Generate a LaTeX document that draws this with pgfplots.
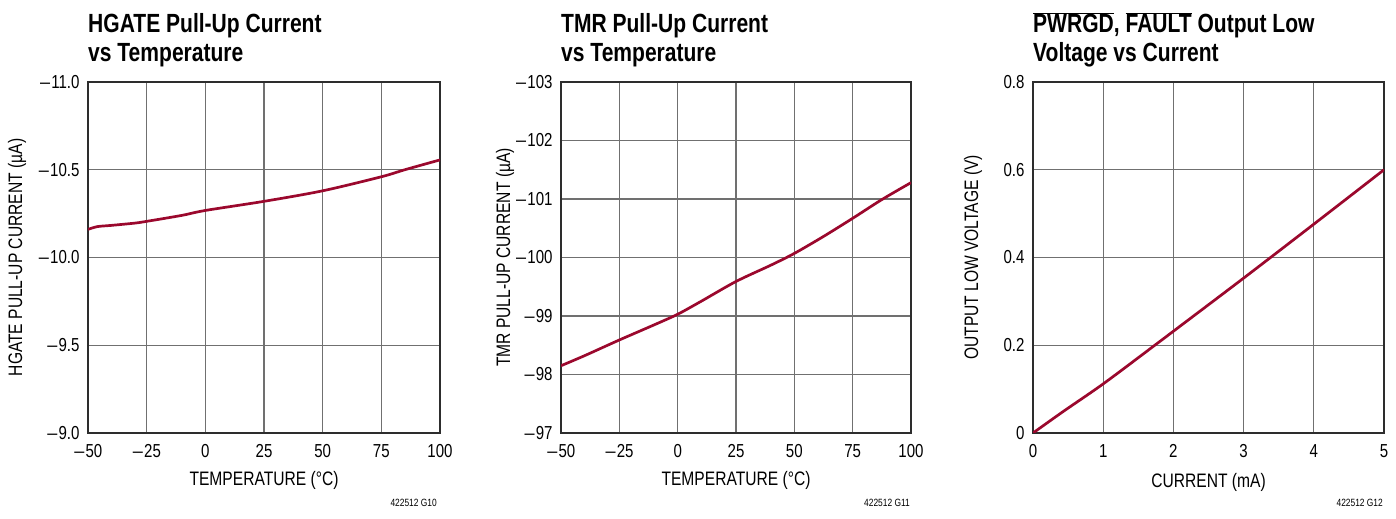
\documentclass[border=0pt]{standalone}
\usepackage{fontspec}
\setmainfont{Liberation Sans}[FakeStretch=0.8]
\usepackage{pgfplots}
\pgfplotsset{compat=1.18}
\definecolor{curve}{RGB}{155,8,45}
\definecolor{gridc}{RGB}{112,112,112}
\definecolor{framec}{RGB}{45,45,45}
\newcommand\tickfont{\fontsize{18.8bp}{20bp}\selectfont}
\newcommand\labfont{\fontsize{19.5bp}{21bp}\selectfont}
\newcommand\titfont{\fontsize{26.3bp}{29bp}\selectfont\bfseries}
\newcommand\smfont{\fontsize{10.5bp}{12bp}\selectfont}
\newcommand\mn{\kern0.5bp\scalebox{1.2}[1]{–}\kern1.2bp}
\pgfplotsset{
  common/.style={
    scale only axis, anchor=south west, height=351bp,
    axis line style={framec, line width=1.6bp},
    grid=major, major grid style={gridc, line width=1.3bp},
    major tick length=0pt,
    tick label style={font=\tickfont},
    xticklabel style={yshift=-8bp},
    yticklabel style={xshift=-5bp},
    label style={font=\labfont},
    clip=true,
  },
  curvestyle/.style={curve, line width=2.7bp, smooth, tension=0.5, no markers},
}
\begin{document}
\begin{tikzpicture}[x=1bp,y=1bp]
\path[use as bounding box] (0,0) rectangle (1396,519);

% Panel 1
\begin{axis}[common, at={(88bp,86bp)}, width=352bp,
  xmin=-50, xmax=100, ymin=-11, ymax=-9, y dir=reverse,
  xtick={-50,-25,0,25,50,75,100},
  xticklabels={\mn50,\mn25,0,25,50,75,100},
  ytick={-11,-10.5,-10,-9.5,-9},
  yticklabels={\mn11.0,\mn10.5,\mn10.0,\mn9.5,\mn9.0},
  xlabel={TEMPERATURE (°C)},
  ylabel={HGATE PULL-UP CURRENT (µA)},
  xlabel style={at={(axis description cs:0.5,-0.135)}, anchor=center},
  ylabel style={at={(axis description cs:-0.2017,0.5)}, anchor=center},
]
\addplot[curvestyle] coordinates {
(-50,-10.160) (-46,-10.176) (-40,-10.183) (-30,-10.196) (-25,-10.206)
(-10,-10.240) (0,-10.268) (25,-10.320) (50,-10.380) (75,-10.460)
(85,-10.500) (100,-10.556)};
\end{axis}

% Panel 2
\begin{axis}[common, at={(561bp,86bp)}, width=350bp,
  xmin=-50, xmax=100, ymin=-103, ymax=-97, y dir=reverse,
  xtick={-50,-25,0,25,50,75,100},
  xticklabels={\mn50,\mn25,0,25,50,75,100},
  ytick={-103,-102,-101,-100,-99,-98,-97},
  yticklabels={\mn103,\mn102,\mn101,\mn100,\mn99,\mn98,\mn97},
  xlabel={TEMPERATURE (°C)},
  ylabel={TMR PULL-UP CURRENT (µA)},
  xlabel style={at={(axis description cs:0.5,-0.135)}, anchor=center},
  ylabel style={at={(axis description cs:-0.16,0.5)}, anchor=center},
]
\addplot[curvestyle] coordinates {
(-50,-98.15) (-40,-98.32) (-25,-98.59) (-10,-98.85) (0,-99.03)
(10,-99.25) (25,-99.59) (40,-99.87) (50,-100.07) (62.5,-100.36)
(75,-100.67) (87.5,-100.99) (100,-101.28)};
\end{axis}

% Panel 3
\begin{axis}[common, at={(1033bp,86bp)}, width=351bp,
  xmin=0, xmax=5, ymin=0, ymax=0.8,
  xtick={0,1,2,3,4,5},
  xticklabels={0,1,2,3,4,5},
  ytick={0,0.2,0.4,0.6,0.8},
  yticklabels={0,0.2,0.4,0.6,0.8},
  xlabel={CURRENT (mA)},
  ylabel={OUTPUT LOW VOLTAGE (V)},
  xlabel style={at={(axis description cs:0.5,-0.141)}, anchor=center},
  ylabel style={at={(axis description cs:-0.171,0.5)}, anchor=center},
]
\addplot[curvestyle] coordinates {
(0,0) (0.43,0.049) (1,0.112) (1.71,0.197) (2,0.232) (3,0.353) (4,0.476) (5,0.600)};
\end{axis}

% Titles
\node[anchor=base west, inner sep=0] at (88,486) {\titfont HGATE Pull-Up Current};
\node[anchor=base west, inner sep=0] at (88,457) {\titfont vs Temperature};
\node[anchor=base west, inner sep=0] at (561,486) {\titfont TMR Pull-Up Current};
\node[anchor=base west, inner sep=0] at (561,457) {\titfont vs Temperature};
\node[anchor=base west, inner sep=0] at (1033,486) {\titfont $\overline{\hbox{PWRGD}}$, $\overline{\hbox{FAULT}}$ Output Low};
\node[anchor=base west, inner sep=0] at (1033,457) {\titfont Voltage vs Current};

% Figure codes
\node[anchor=base east, inner sep=0] at (437,12) {\smfont 422512 G10};
\node[anchor=base east, inner sep=0] at (910,12) {\smfont 422512 G11};
\node[anchor=base east, inner sep=0] at (1383,12) {\smfont 422512 G12};
\end{tikzpicture}
\end{document}
